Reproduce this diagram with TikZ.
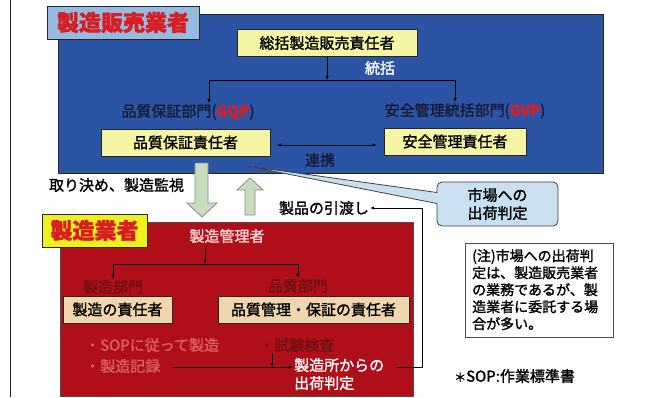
\documentclass[tikz,border=0pt]{standalone}
\usepackage{fontspec}
\setmainfont{Noto Sans CJK JP}[FakeBold=1.5]
\usetikzlibrary{arrows.meta,shapes.callouts}
\definecolor{mblue}{RGB}{44,84,164}
\definecolor{tblue}{RGB}{150,186,226}
\definecolor{ybox}{RGB}{245,245,165}
\definecolor{mred}{RGB}{176,14,24}
\definecolor{ytitle}{RGB}{240,240,30}
\definecolor{tanbox}{RGB}{240,214,175}
\definecolor{calloutc}{RGB}{200,224,240}
\definecolor{hgreen}{RGB}{200,220,190}
\definecolor{navy}{RGB}{25,25,55}
\definecolor{tred}{RGB}{215,30,35}
\definecolor{dred}{RGB}{110,18,18}
\definecolor{bred}{RGB}{215,95,95}
\definecolor{lpink}{RGB}{245,215,215}
\begin{document}
\begin{tikzpicture}[x=1pt,y=-1pt,
  every node/.style={inner sep=1pt},
  fnt/.style={font=\fontsize{#1}{18}\selectfont},
  ybx/.style={draw=black!85, line width=0.8pt, fill=ybox, fnt=15, text=black, inner sep=0pt, minimum height=27pt},
  tbx/.style={draw=black!85, line width=0.8pt, fill=tanbox, fnt=15, text=black, inner sep=0pt, minimum height=27pt},
  arr/.style={-{Latex[length=4pt,width=3.5pt]}, line width=0.7pt},
  hollow/.style={fill=hgreen, draw=black!45, line width=0.8pt, line join=miter},
]
\useasboundingbox (0,0) rectangle (651,397);
\fill[white] (0,0) rectangle (651,397);
% left margin line
\draw[line width=1.5pt, black!85] (10.5,0) -- (10.5,397);

% ===== 製造販売業者 =====
\node[draw=black!85, line width=0.8pt, fill=mblue, minimum width=545pt, minimum height=159pt, inner sep=0pt] (blue) at (330.5,93.5) {};
\node[draw=black!85, line width=0.8pt, fill=tblue, minimum width=152pt, minimum height=33pt, inner sep=0pt, fnt=22, text=tred] (btitle) at (123,22.5) {\bfseries 製造販売業者};
\node[ybx, minimum width=180pt] (sokatsu) at (327,43) {総括製造販売責任者};
\node[fnt=15, text=white] (tokatsu) at (380,68) {統括};
\node[fnt=15, text=navy] (gqp) at (188,112) {品質保証部門({\color{tred}\bfseries GQP})};
\node[fnt=15, text=navy] (gvp) at (465,111) {安全管理統括部門({\color{tred}\bfseries GVP})};
\node[ybx, minimum width=169pt] (qa) at (185.5,142.5) {品質保証責任者};
\node[ybx, minimum width=142pt] (sm) at (455,141.5) {安全管理責任者};
\node[fnt=15, text=navy] (renkei) at (320,160) {連携};
\coordinate (jl) at (209,80);
\coordinate (jr) at (455,80);
\draw[arr, black] (sokatsu.south) -- (sokatsu.south |- jl);
\draw[line width=0.7pt, black] (jl) -- (jr);
\draw[arr, black] (jl) -- (jl |- gqp.north);
\draw[arr, black] (jr) -- (jr |- gvp.north);
\draw[{Latex[length=4pt,width=3.5pt]}-{Latex[length=4pt,width=3.5pt]}, line width=0.7pt, black, shorten <=7pt, shorten >=7pt] (qa.east |- 0,145) -- (sm.west |- 0,145);

% callout
\node[rectangle callout, callout absolute pointer={(247,166)}, callout pointer width=11pt, rounded corners=5pt,
  fill=calloutc, draw=black!75, line width=0.8pt, minimum width=121pt, minimum height=44pt, fnt=15, align=left, text=black] (call) at (497.5,204) {市場への\\出荷判定};

% hollow arrows
\draw[hollow] (195,163) -- (208,163) -- (208,203) -- (217,203) -- (202,217) -- (187,203) -- (195,203) -- cycle;
\draw[hollow] (245,215) -- (255,215) -- (255,190) -- (263,190) -- (250,178) -- (237,190) -- (245,190) -- cycle;
\node[fnt=15, text=black] (torikime) at (116.5,185) {取り決め、製造監視};
\node[fnt=15, text=black] (hikiwatashi) at (324,208) {製品の引渡し};

% ===== 製造業者 =====
\node[draw=black!70, line width=0.8pt, fill=mred, minimum width=353pt, minimum height=174pt, inner sep=0pt] (red) at (236.5,309) {};
\node[draw=black!85, line width=0.8pt, fill=ytitle, minimum width=105pt, minimum height=33pt, inner sep=0pt, fnt=22, text=tred] (rtitle) at (94.5,230.5) {\bfseries 製造業者};
\node[fnt=15, text=lpink] (mgr) at (227,236) {製造管理者};
\coordinate (fl) at (113,264);
\coordinate (fr) at (298,264);
\node[fnt=15, text=dred] (sbumon) at (113,287) {製造部門};
\node[fnt=15, text=dred] (hbumon) at (298,286) {品質部門};
\draw[arr, black] (205,247) -- (205,264);
\draw[line width=0.7pt, black] (fl) -- (fr);
\draw[arr, black] (fl) -- (sbumon.north);
\draw[arr, black] (fr) -- (hbumon.north);
\node[tbx, minimum width=109pt] (sresp) at (117.5,309.5) {製造の責任者};
\node[tbx, minimum width=191pt] (hresp) at (313.5,309.5) {品質管理・保証の責任者};
\node[fnt=15, text=bred, anchor=west] (sop) at (84,345) {・SOPに従って製造};
\node[fnt=15, text=bred, anchor=west] (kiroku) at (84,366) {・製造記録};
\node[fnt=15, text=dred, anchor=west] (kensa) at (258,345) {・試験検査};
\node[fnt=15, text=white, anchor=north west, align=left] (shukka) at (293,357) {製造所からの\\出荷判定};
\coordinate (kl) at (173,367);
\coordinate (kd) at (272,367);
\coordinate (rt) at (422,367);
\draw[arr, black] (kl) -- (shukka.west |- kl);
\draw[arr, black] (kd |- kensa.south) -- (kd);
\draw[line width=0.7pt, black] (397,367) -- (rt) -- (rt |- hikiwatashi);
\draw[arr, black] (rt |- hikiwatashi) -- (hikiwatashi.east);

% note
\node[draw=black!70, line width=0.8pt, fill=white, minimum width=148pt, minimum height=94pt, anchor=north west, inner sep=0pt] (notebox) at (465,243) {};
\node[align=left, anchor=north west, text=black, font=\fontsize{14}{17}\selectfont] (note) at (471,248) {(注)市場への出荷判\\定は、製造販売業者\\の業務であるが、製\\造業者に委託する場\\合が多い。};
\node[fnt=15, anchor=west, text=black] (sopdef) at (453,376) {{\fontsize{12}{12}\selectfont ＊}SOP:作業標準書};
\end{tikzpicture}
\end{document}
